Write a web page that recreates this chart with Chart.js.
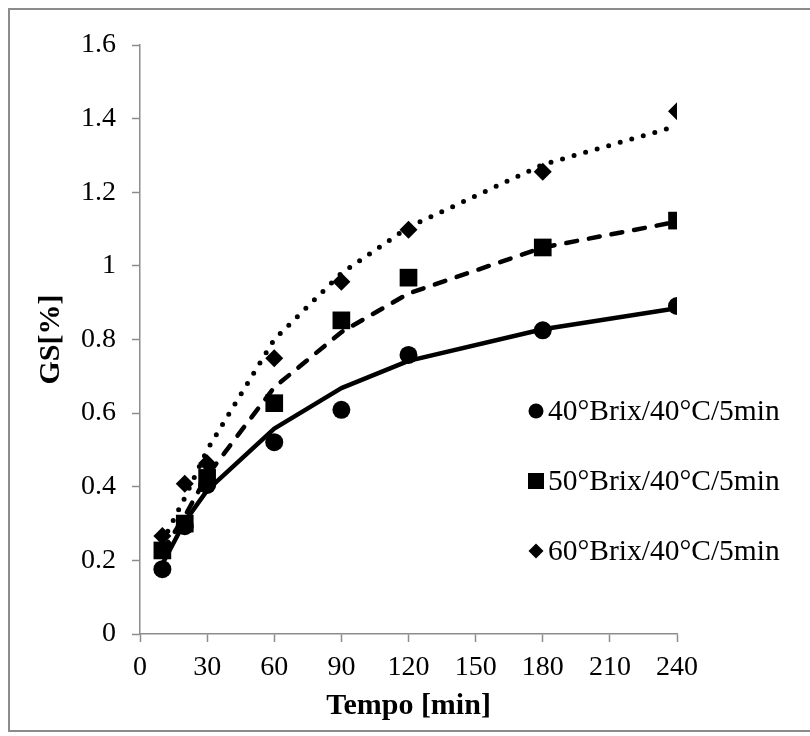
<!DOCTYPE html>
<html>
<head>
<meta charset="utf-8">
<script src="https://cdn.jsdelivr.net/npm/chart.js@4/dist/chart.umd.min.js"></script>
<style>
  html, body { margin: 0; padding: 0; background: #fff; }
  #wrap { position: relative; width: 810px; height: 736px; }
</style>
</head>
<body>
<div id="wrap"><canvas id="c" width="810" height="736"></canvas></div>
<script>
// ---- data ----
const times = [10, 20, 30, 60, 90, 120, 180, 240];
const seriesNames = ['40°Brix/40°C/5min', '50°Brix/40°C/5min', '60°Brix/40°C/5min'];
const gs40 = [0.176, 0.293, 0.405, 0.521, 0.609, 0.758, 0.825, 0.891];
const gs50 = [0.227, 0.300, 0.424, 0.627, 0.852, 0.968, 1.050, 1.123];
const gs60 = [0.266, 0.408, 0.464, 0.749, 0.957, 1.098, 1.256, 1.420];
const fit40 = [0.190, 0.305, 0.390, 0.558, 0.668, 0.742, 0.828, 0.885];
const fit50 = [0.225, 0.320, 0.430, 0.670, 0.820, 0.925, 1.050, 1.120];
const fit60 = [0.250, 0.370, 0.500, 0.800, 0.980, 1.105, 1.275, 1.380];
const xTicks = [0, 30, 60, 90, 120, 150, 180, 210, 240];
const yTicks = [0, 0.2, 0.4, 0.6, 0.8, 1, 1.2, 1.4, 1.6];
const xTitle = 'Tempo [min]';
const yTitle = 'GS[%]';

const FONT = "'Liberation Serif', 'Times New Roman', serif";
const AXIS = '#8c8c8c';

const pts = (ys) => times.map((t, i) => ({ x: t, y: ys[i] }));

const markerStyles = [
  { pointStyle: 'circle', radius: 9 },
  { pointStyle: 'rect', radius: 12.5 },
  { pointStyle: 'rectRot', radius: 9 }
];

function markerSet(label, ys, st) {
  return {
    label, data: pts(ys), showLine: false, order: 1,
    pointStyle: st.pointStyle, pointRadius: st.radius, pointHoverRadius: st.radius,
    backgroundColor: '#000', borderColor: '#000', borderWidth: 0
  };
}
function lineSet(label, ys, dash) {
  return {
    label, data: pts(ys), showLine: true, order: 2, pointRadius: 0,
    borderColor: '#000', borderWidth: dash === 'dot' ? 5 : 4.5,
    borderDash: dash === 'dot' ? [0, 12] : (dash === 'dash' ? [11, 12] : []),
    borderCapStyle: dash === 'solid' ? 'butt' : 'round',
    borderJoinStyle: 'round', tension: 0, fill: false
  };
}

const frameAndLegend = {
  id: 'frameAndLegend',
  afterDraw(chart) {
    const ctx = chart.ctx;
    ctx.save();
    // outer frame
    ctx.strokeStyle = AXIS;
    ctx.lineWidth = 2;
    ctx.beginPath();
    ctx.moveTo(812, 9); ctx.lineTo(9, 9); ctx.lineTo(9, 731); ctx.lineTo(812, 731);
    ctx.stroke();
    // legend
    const rows = [411, 481, 551];
    const mx = 536, tx = 548;
    ctx.fillStyle = '#000';
    ctx.font = "29.5px " + FONT;
    ctx.textBaseline = 'middle';
    ctx.textAlign = 'left';
    seriesNames.forEach((name, i) => {
      const y = rows[i];
      ctx.beginPath();
      if (i === 0) { ctx.arc(mx, y, 7.5, 0, Math.PI * 2); }
      else if (i === 1) { ctx.rect(mx - 8, y - 8, 16, 16); }
      else { ctx.moveTo(mx, y - 7.5); ctx.lineTo(mx + 7.5, y); ctx.lineTo(mx, y + 7.5); ctx.lineTo(mx - 7.5, y); ctx.closePath(); }
      ctx.fill();
      ctx.fillText(name, tx, y + 1);
    });
    ctx.restore();
  }
};

new Chart(document.getElementById('c'), {
  type: 'scatter',
  data: {
    datasets: [
      markerSet(seriesNames[0], gs40, markerStyles[0]),
      markerSet(seriesNames[1], gs50, markerStyles[1]),
      markerSet(seriesNames[2], gs60, markerStyles[2]),
      lineSet('fit ' + seriesNames[0], fit40, 'solid'),
      lineSet('fit ' + seriesNames[1], fit50, 'dash'),
      lineSet('fit ' + seriesNames[2], fit60, 'dot')
    ]
  },
  options: {
    responsive: false,
    animation: false,
    devicePixelRatio: 1,
    layout: { padding: { left: 0, top: 45, right: 133, bottom: 0 } },
    plugins: { legend: { display: false }, tooltip: { enabled: false }, title: { display: false } },
    scales: {
      x: {
        type: 'linear', min: 0, max: 240,
        afterBuildTicks: (s) => { s.ticks = xTicks.map(v => ({ value: v })); },
        afterFit: (s) => { s.height = 102; },
        grid: { drawOnChartArea: false, drawTicks: true, tickLength: 8, color: AXIS, tickWidth: 1.5 },
        border: { color: AXIS, width: 1.5 },
        ticks: { color: '#000', font: { family: FONT, size: 28 }, padding: 9, maxRotation: 0, autoSkip: false },
        title: { display: true, text: xTitle, color: '#000', font: { family: FONT, size: 30, weight: 'bold', lineHeight: 1.2 }, padding: { top: 0, bottom: 12 } }
      },
      y: {
        type: 'linear', min: 0, max: 1.6,
        afterBuildTicks: (s) => { s.ticks = yTicks.map(v => ({ value: v })); },
        afterFit: (s) => { s.width = 140; },
        grid: { drawOnChartArea: false, drawTicks: true, tickLength: 8, color: AXIS, tickWidth: 1.5 },
        border: { color: AXIS, width: 1.5 },
        ticks: { color: '#000', font: { family: FONT, size: 28 }, padding: 16, autoSkip: false,
                 callback: (v) => String(Math.round(v * 10) / 10) },
        title: { display: true, text: yTitle, color: '#000', font: { family: FONT, size: 30, weight: 'bold', lineHeight: 1.2 }, padding: { top: 33, bottom: 0 } }
      }
    }
  },
  plugins: [frameAndLegend]
});
</script>
</body>
</html>
